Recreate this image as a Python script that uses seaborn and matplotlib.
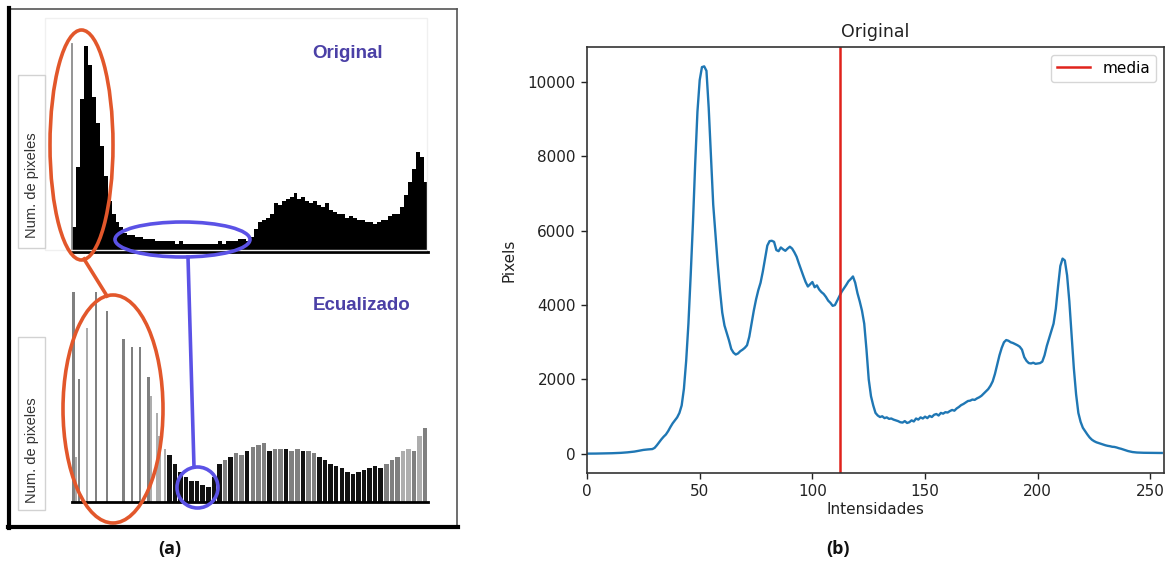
import numpy as np
import pandas as pd
import matplotlib
matplotlib.use("Agg")
import matplotlib.pyplot as plt
from matplotlib.patches import Ellipse, Rectangle
import seaborn as sns

# ---------------- data ----------------
# (b) grey-level histogram of the original image, one count per intensity 0..255
pixel_counts = [
    5, 5, 6, 6, 7, 8, 9, 10, 11, 12,
    14, 16, 18, 20, 23, 26, 30, 35, 40, 46,
    52, 60, 70, 82, 95, 105, 112, 118, 122, 128,
    160, 230, 310, 390, 460, 520, 610, 720, 820, 900,
    980, 1100, 1300, 1750, 2500, 3500, 4800, 6200, 7800, 9200,
    10050, 10400, 10420, 10300, 9300, 8000, 6700, 5900, 5100, 4400,
    3800, 3450, 3250, 3050, 2820, 2720, 2670, 2700, 2760, 2800,
    2850, 2920, 3150, 3500, 3850, 4150, 4400, 4600, 4900, 5250,
    5600, 5720, 5730, 5700, 5480, 5450, 5550, 5500, 5460, 5520,
    5570, 5520, 5420, 5300, 5120, 4950, 4780, 4620, 4500, 4560,
    4620, 4480, 4530, 4420, 4350, 4300, 4220, 4120, 4060, 3980,
    4000, 4120, 4240, 4360, 4450, 4540, 4640, 4700, 4770, 4600,
    4320, 4100, 3850, 3500, 2800, 2000, 1550, 1300, 1100, 1030,
    990, 1010, 960, 980, 940, 950, 920, 900, 880, 850,
    840, 880, 830, 850, 900, 870, 950, 920, 980, 950,
    1000, 960, 1020, 990, 1050, 1070, 1030, 1100, 1080, 1120,
    1110, 1150, 1180, 1160, 1220, 1260, 1310, 1340, 1380, 1420,
    1430, 1460, 1450, 1490, 1520, 1560, 1620, 1680, 1740, 1830,
    1950, 2150, 2400, 2650, 2850, 3000, 3060, 3040, 3000, 2980,
    2950, 2920, 2880, 2800, 2600, 2500, 2440, 2430, 2450, 2420,
    2430, 2440, 2480, 2650, 2900, 3100, 3300, 3500, 3900, 4500,
    5050, 5250, 5200, 4800, 4100, 3200, 2300, 1600, 1100, 860,
    700, 610, 520, 440, 380, 340, 310, 290, 270, 250,
    230, 215, 205, 190, 185, 170, 150, 135, 115, 95,
    75, 60, 48, 40, 35, 32, 30, 28, 27, 26,
    25, 25, 24, 24, 23, 23,
]
intensities = list(range(256))
media = 112.3

# (a) top: original histogram, 90 coarse bins, relative height in %
original_bins = [
    12, 40, 72, 97, 88, 73, 61, 50, 36, 24,
    18, 14, 12, 9, 8, 8, 7, 7, 6, 6,
    6, 5, 5, 5, 5, 5, 4, 5, 4, 4,
    4, 4, 4, 4, 4, 4, 4, 5, 4, 5,
    5, 5, 6, 6, 5, 7, 11, 14, 15, 16,
    18, 23, 22, 24, 25, 26, 28, 25, 26, 24,
    23, 24, 22, 21, 23, 20, 19, 18, 18, 16,
    17, 16, 15, 15, 14, 14, 13, 14, 15, 15,
    17, 18, 18, 21, 27, 33, 39, 47, 45, 33,
]

# (a) bottom: equalized histogram, isolated spikes at the low levels ...
spike_levels = [0, 3, 5, 10, 17, 25, 36, 43, 49, 54, 57, 60, 63, 66]
spike_heights = [99, 21, 58, 82, 99, 90, 77, 73, 73, 59, 50, 42, 31, 25]
spike_tone = ["mid", "light", "mid", "light", "mid", "mid", "mid", "mid",
              "mid", "mid", "light", "light", "light", "light"]

# ... and a dense run of 4-level bins from level 68 upward
dense_heights = [
    22, 18, 14, 12, 10, 10, 8, 7, 12, 18,
    20, 21, 23, 22, 24, 26, 27, 28, 24, 25,
    25, 25, 24, 25, 24, 24, 23, 21, 20, 18,
    17, 16, 14, 13, 14, 15, 16, 17, 16, 18,
    20, 21, 24, 25, 24, 31, 35,
]
dense_tone = [
    "dark", "dark", "dark", "dark", "dark", "dark", "dark", "dark", "dark", "dark",
    "mid", "dark", "mid", "mid", "dark", "mid", "mid", "mid", "dark", "mid",
    "mid", "dark", "mid", "mid", "dark", "mid", "mid", "dark", "dark", "dark",
    "dark", "dark", "dark", "dark", "dark", "dark", "dark", "dark", "dark", "mid",
    "mid", "mid", "light", "light", "mid", "light", "mid",
]
dense_levels = [68 + 4 * j + 2 for j in range(len(dense_heights))]

tone_palette = {"dark": "#111111", "mid": "#808080", "light": "#adadad"}

# ---------------- figure ----------------
W, H = 1172, 563
fig = plt.figure(figsize=(W / 100, H / 100), dpi=100)
fig.patch.set_facecolor("white")


def px_axes(x0, y0, x1, y1):
    """Axes placed by pixel box (top-left origin)."""
    return fig.add_axes([x0 / W, 1 - y1 / H, (x1 - x0) / W, (y1 - y0) / H])


def bare(ax):
    ax.set_xticks([])
    ax.set_yticks([])
    ax.set_xlabel("")
    ax.set_ylabel("")
    for s in ax.spines.values():
        s.set_visible(False)
    ax.patch.set_alpha(0)


# ---- (a) top histogram ----
ax_top = px_axes(72, 40, 428, 252)
top_df = pd.DataFrame({"bin": np.arange(len(original_bins)) + 0.5,
                       "height": original_bins})
sns.histplot(data=top_df, x="bin", weights="height", bins=len(original_bins),
             binrange=(0, len(original_bins)), element="step", fill=True,
             color="black", alpha=1, linewidth=0, ax=ax_top)
ax_top.set_xlim(0, len(original_bins))
ax_top.set_ylim(0, 100)
bare(ax_top)
ax_top.spines["bottom"].set_visible(True)
ax_top.spines["bottom"].set_linewidth(2)
ax_top.spines["left"].set_visible(True)
ax_top.spines["left"].set_color("#8c8c8c")
ax_top.spines["left"].set_linewidth(1.3)
ax_top.spines["left"].set_bounds(0, 98)

# ---- (a) bottom histogram ----
ax_bot = px_axes(72, 290, 428, 502)
spike_df = pd.DataFrame({"level": spike_levels, "height": spike_heights,
                         "tone": spike_tone})
dense_df = pd.DataFrame({"level": dense_levels, "height": dense_heights,
                         "tone": dense_tone})
sns.histplot(data=spike_df, x="level", weights="height", hue="tone",
             palette=tone_palette, binwidth=2, binrange=(0, 256),
             multiple="layer", alpha=1, linewidth=0, shrink=0.8,
             legend=False, ax=ax_bot)
sns.histplot(data=dense_df, x="level", weights="height", hue="tone",
             palette=tone_palette, binwidth=4, binrange=(68, 256),
             multiple="layer", alpha=1, linewidth=0, shrink=0.8,
             legend=False, ax=ax_bot)
ax_bot.set_xlim(0, 256)
ax_bot.set_ylim(0, 100)
bare(ax_bot)
ax_bot.spines["bottom"].set_visible(True)
ax_bot.spines["bottom"].set_linewidth(2)

# ---- (a) frame, labels and annotations drawn in pixel space ----
ov = px_axes(0, 0, 470, H)
ov.set_xlim(0, 470)
ov.set_ylim(H, 0)
ov.axis("off")

# faint scan boxes
ov.add_patch(Rectangle((45, 18), 382, 232, fill=False, ec="#f0f0f0", lw=1))
ov.add_patch(Rectangle((18, 75), 27, 173, fc="white", ec="#d2d2d2", lw=1))
ov.add_patch(Rectangle((18, 337), 27, 173, fc="white", ec="#d2d2d2", lw=1))

# outer frame
ov.plot([9, 457], [9, 9], color="#555555", lw=1.2)
ov.plot([457, 457], [9, 527], color="#555555", lw=1.2)
ov.plot([9, 9], [8, 528], color="black", lw=3)
ov.plot([8, 458], [527, 527], color="black", lw=3)

label_font = ["Liberation Sans", "DejaVu Sans"]
ov.text(32, 185, "Num. de pixeles", rotation=90, ha="center", va="center",
        fontsize=10.5, color="#333333", family=label_font)
ov.text(32, 450, "Num. de pixeles", rotation=90, ha="center", va="center",
        fontsize=10.5, color="#333333", family=label_font)
ov.text(348, 53, "Original", ha="center", va="center", fontsize=13.5,
        fontweight="bold", color="#4b40a6", family=label_font)
ov.text(362, 306, "Ecualizado", ha="center", va="center", fontsize=13.5,
        fontweight="bold", color="#4b40a6", family=label_font)

orange = "#e2572b"
blue = "#5b52e6"
ov.add_patch(Ellipse((81.5, 145), 63, 230, fill=False, ec=orange, lw=2.6))
ov.add_patch(Ellipse((113, 409), 100, 228, fill=False, ec=orange, lw=2.6))
ov.plot([84, 107], [259, 296], color=orange, lw=2.6)
ov.add_patch(Ellipse((182.5, 239.5), 135, 35, fill=False, ec=blue, lw=2.6))
ov.plot([188, 194], [257, 467], color=blue, lw=2.6)
ov.add_patch(Ellipse((197.5, 487.5), 41, 41, fill=False, ec=blue, lw=2.6))

caption_font = ["Open Sans", "DejaVu Sans"]
ov.text(170, 549, "(a)", ha="center", va="center", fontsize=13,
        fontweight="bold", color="#111111", family=caption_font)

# ---- (b) histogram line chart ----
axb = px_axes(587, 47, 1164, 473)
sns.lineplot(x=intensities, y=pixel_counts, ax=axb, color="#1f77b4", lw=1.7)
axb.axvline(media, color="#e0231c", lw=1.8, label="media")
axb.set_xlim(0, 256)
axb.set_xticks([0, 50, 100, 150, 200, 250])
axb.set_yticks([0, 2000, 4000, 6000, 8000, 10000])
axb.tick_params(labelsize=11, length=4.5, width=1, colors="#222222")
for s in axb.spines.values():
    s.set_color("#333333")
    s.set_linewidth(1.2)
axb.set_title("Original", fontsize=12.5, color="#222222", pad=7)
axb.set_xlabel("Intensidades", fontsize=11, color="#222222", labelpad=2)
axb.set_ylabel("Pixels", fontsize=11, color="#222222", labelpad=8)
axb.legend(loc="upper right", fontsize=11, handlelength=2.2)

fig.text(838 / W, 1 - 549 / H, "(b)", ha="center", va="center", fontsize=13,
         fontweight="bold", color="#111111", family=caption_font)

fig.savefig("out.png", dpi=100)
